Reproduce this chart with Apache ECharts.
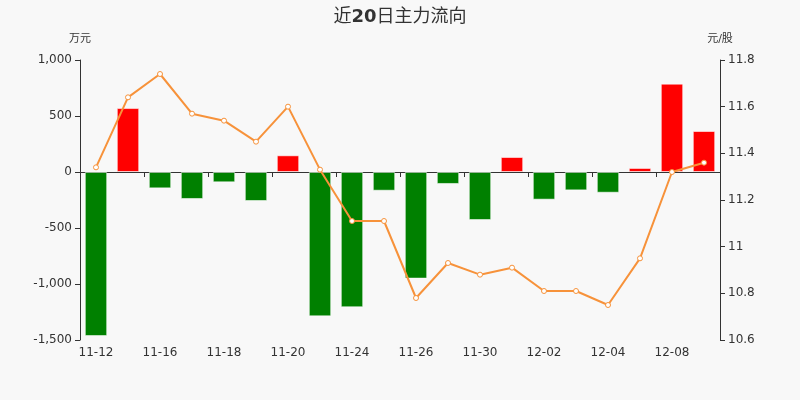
<!DOCTYPE html>
<html><head><meta charset="utf-8">
<script src="https://cdn.jsdelivr.net/npm/echarts@6/dist/echarts.min.js"></script>
<style>html,body{margin:0;padding:0;background:#f8f8f8;}#c{width:800px;height:400px;}</style>
</head><body><div id="c"></div>
<script>
const categories = ['11-12','11-13','11-16','11-17','11-18','11-19','11-20','11-23','11-24','11-25','11-26','11-27','11-30','12-01','12-02','12-03','12-04','12-07','12-08','12-09'];
const flowValues = [-1465, 571, -146, -241, -92, -259, 149, -1289, -1208, -167, -952, -107, -429, 134, -247, -164, -185, 36, 789, 366];
const priceValues = [11.34, 11.64, 11.74, 11.57, 11.54, 11.45, 11.60, 11.33, 11.11, 11.11, 10.78, 10.93, 10.88, 10.91, 10.81, 10.81, 10.75, 10.95, 11.32, 11.36];
const titlePre = '近';
const titleNum = '20';
const titlePost = '日主力流向';
const leftUnit = '万元';
const rightUnit = '元/股';

const FONT = '"DejaVu Sans", "Noto Sans CJK SC", sans-serif';
const chart = echarts.init(document.getElementById('c'));
const axisColor = '#333';
chart.setOption({
  backgroundColor: '#f8f8f8',
  animation: false,
  textStyle: { fontFamily: FONT },
  title: { text: titlePre + '{b|' + titleNum + '}' + titlePost, left: 'center', top: 3,
    textStyle: { fontSize: 18, fontWeight: 'normal', color: '#333', fontFamily: FONT,
      rich: { b: { fontSize: 18, fontWeight: 'bold', color: '#333', fontFamily: FONT } } } },
  grid: { left: 80, right: 80, top: 60, bottom: 60 },
  xAxis: [
    { type: 'category', data: categories, position: 'bottom',
      axisLine: { show: false, onZero: false }, axisTick: { show: false },
      axisLabel: { interval: 1, color: '#333', fontSize: 12, margin: 7, fontFamily: FONT } },
    { type: 'category', data: categories, position: 'bottom',
      axisLine: { show: true, onZero: true, lineStyle: { color: axisColor } },
      axisTick: { show: true, interval: 1, lineStyle: { color: axisColor } },
      axisLabel: { show: false } }
  ],
  yAxis: [
    { type: 'value', name: leftUnit, min: -1500, max: 1000, interval: 500,
      nameTextStyle: { color: '#333', fontSize: 11, padding: [0, 0, 0, 0], fontFamily: FONT }, nameGap: 15,
      axisLine: { show: true, lineStyle: { color: axisColor } }, axisTick: { show: true },
      splitLine: { show: false }, axisLabel: { color: '#333', fontSize: 12, fontFamily: FONT } },
    { type: 'value', name: rightUnit, min: 10.6, max: 11.8, interval: 0.2,
      nameTextStyle: { color: '#333', fontSize: 11, padding: [0, 0, 0, 0], fontFamily: FONT }, nameGap: 15,
      axisLine: { show: true, lineStyle: { color: axisColor } }, axisTick: { show: true },
      splitLine: { show: false }, axisLabel: { color: '#333', fontSize: 12, fontFamily: FONT } }
  ],
  series: [
    { type: 'bar', xAxisIndex: 0, yAxisIndex: 0, data: flowValues, barWidth: '70%',
      itemStyle: { color: p => p.value >= 0 ? '#ff0000' : '#008000', borderColor: 'rgba(255,255,255,0.55)', borderWidth: 1 } },
    { type: 'line', xAxisIndex: 0, yAxisIndex: 1, data: priceValues,
      symbol: 'circle', symbolSize: 5, showAllSymbol: true,
      lineStyle: { color: '#f7923a', width: 2 },
      itemStyle: { color: '#fff', borderColor: '#f7923a', borderWidth: 1 } }
  ]
});
</script></body></html>
